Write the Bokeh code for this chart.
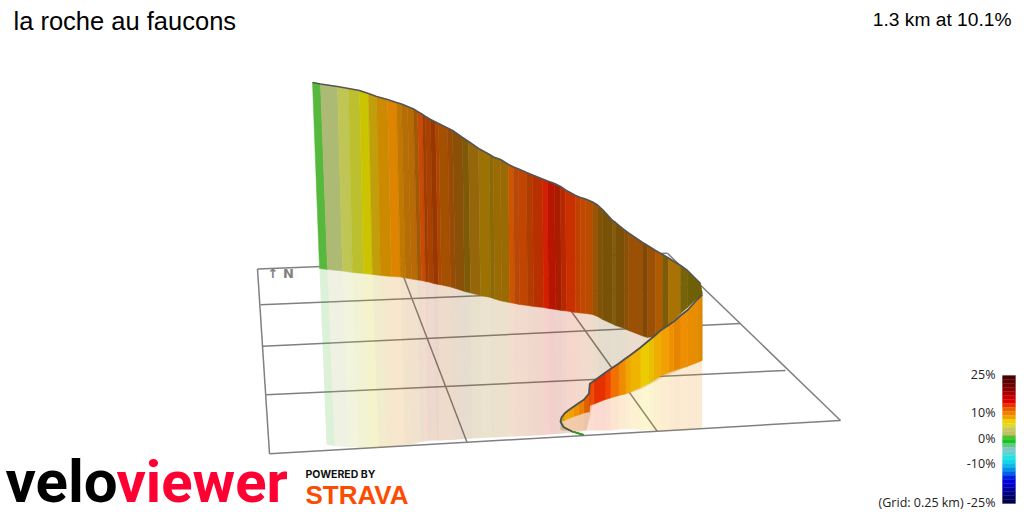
from bokeh.plotting import figure
from bokeh.embed import file_html
from bokeh.resources import INLINE
from bokeh.core.properties import value

title = "la roche au faucons"
summary = "1.3 km at 10.1%"
scale_labels = ["25%", "10%", "0%", "-10%", "(Grid: 0.25 km) -25%"]
scale_label_y = [374, 412, 438, 463, 502]

# back wall: projected positions of the ribbon
back_x_top = [312,320,337,348,359,368,376,387,396,401,407,413,417,422,425,430,435,438,447,452,462,468,478,489,493,500,508,513,518,526,532,542,547,554,560,565,575,580,585,592,597,602,612,615,624,628,642,647,655,662,668,680,687,700]
back_y_top = [82,83.5,86,88,90,93,96,99,102,103.5,106,108.5,111,114,116,119,121.5,123,127.5,130,137,141,148,154,156.5,159,164,166.5,168.5,172,174.5,178.5,180.5,183,186,189.5,195,197,198.5,201.5,204.5,209,220,222,229.5,232.5,242,245,250,254,257.5,265,270,283]
back_x_base = [319,327,342,352,363,372,380,391,400,405,411,417,421,425,428,433,438,441,450,455,464,470,480,490,494,501,509,514,519,527,533,543,548,555,561,566,575,580,585,592,597,602,612,615,624,628,642,647,655,662,668,680,687,702]
back_y_base = [268,269,270.5,272,273,274,275,276,276.5,277.5,278.5,279.5,280,281,281.5,283,284,284.5,286.5,288,291,292.5,295,297,298.5,300.5,302,303,304,305,306,307,308,309,310,310.5,312,312.5,313,314,316,319,323.5,325,328,330,335.5,337,336,330,325,313,307,293]
back_x_refl = [326,334,348,358,369,378,386,395,404,410,415,420,424,427,431,436,439,448,452,457,466,472,481,491,495,502,510,515,520,528,534,544,549,556,562,567,576,581,586,592,597,602,612,615,624,628,642,647,655,662,668,680,687,702]
back_y_refl = [444,445.5,446.5,447,447,447,446.5,445.5,444.5,444,443,441.5,441,440.5,440,440,440,439.5,439.5,439,438.5,438,437.5,437,437,436.5,436,436,435.5,435.5,435,434.5,434,433.5,433,432.5,431.5,431,430,405,403,400,397,396,394,393,388,385,381,377,375,369,366,360]
back_colors = ["#56b83c","#adba74","#bfc655","#bcbf2e","#ccc400","#c09f0a","#cc8a00","#dd8500","#c07800","#b46e05","#b86a05","#a05a06","#c84a05","#a03c00","#a84000","#983800","#b04400","#a35000","#9a4a05","#8a5008","#7c5a08","#96660a","#9d7205","#8a6b08","#9a6a05","#9a6a05","#cc5500","#b8480a","#c04500","#b03c00","#b83000","#d42000","#b81400","#a81c00","#b82800","#c83000","#c04000","#c04800","#b84c00","#9c5200","#825206","#785206","#7f5a08","#7a5006","#8a5005","#9a5005","#804a06","#9a5005","#b05a00","#7f5a08","#a87205","#786408","#6f6005"]

# front wall
front_x = [701.7,696.7,686.7,680,673.3,668.3,660,653.3,648.3,640,630,625,618.3,610,605,593.3,589.3,588.5,583.3,578.3,573.3,568.3,564,561,560,563,571.7,583]
front_y_top = [294,299,310,315,321,324.5,330,336,340,347,354.5,358,363,368.5,372,380.5,383.3,393,399.3,402.5,406,409.5,413,417,421,426.5,431,434.3]
front_y_base = [360,362,366,368,370.3,372,375.5,380,383,387,391.5,393.5,395,397.5,399,403.5,405,411.5,412.5,414.5,416,418,420,421,422,427,431,434.3]
front_y_refl = [427,427.5,428.5,429,429.5,430,430,430,430,429.5,428.5,428.5,429,430,430,430,430,430,430,430,430,430,430,429.5,429,430,431,434.3]
front_colors = ["#e08a00","#e88c00","#ee8e00","#e68600","#f09000","#f0a000","#eead00","#e8c000","#eccc00","#f0b400","#f0a600","#f08c00","#f07000","#f04500","#e63000","#f04a00","#d04000","#e06000","#e88000","#f09000","#f0a000","#f0a800","#d0a000","#b0a010","#506010","#406010","#30a020"]

# ground grid
grid_x0 = [257,260,262.3,265.7,269,257,398,533]
grid_y0 = [268.5,304.3,345.7,394.3,453.3,268.5,263,258]
grid_x1 = [667,701,740,785,840,269,466.7,656.7]
grid_y1 = [252.8,286,323,370,420,453.3,442.3,430.7]
grid_right_x = [667,840]
grid_right_y = [252.8,420]

# colour scale
scale_y = [375,379,383,387,391,395,399,403,407,411,415,419,423,427,431,435,439,443,447,451,455,459,463,467,471,475,479,483,487,491,495,499]
scale_colors = ["#4a0000","#5a0000","#700000","#880000","#a80000","#c80000","#e00000","#e83000","#e86000","#f08000","#f0a000","#f0d000","#e0d830","#c8c860","#c0c060","#50c030","#10c820","#60c880","#80c8c8","#60d0d0","#20e4e4","#10d8e8","#10b8e8","#0090e8","#0060e8","#0020e0","#0000e0","#0000c0","#0000a0","#000080","#000060","#000048"]

GRID = "#808080"
p = figure(width=1024, height=512, x_range=(0, 1024), y_range=(512, 0),
           x_axis_type=None, y_axis_type=None, toolbar_location=None,
           output_backend="svg", min_border=0, outline_line_color=None)
p.grid.visible = False

p.segment(grid_x0, grid_y0, grid_x1, grid_y1, line_color=GRID, line_width=1.5)
p.line(grid_right_x, grid_right_y, line_color=GRID, line_width=1.5)
p.text([272.5], [273], text=["↑"], text_color=GRID, text_font_size="13px",
       text_font_style="bold", text_align="center", text_baseline="middle", text_font=value("DejaVu Sans"))
p.text([288], [273], text=["N"], text_color=GRID, text_font_size="13px",
       text_font_style="bold", text_align="center", text_baseline="middle", text_font=value("DejaVu Sans"))


def strips(x0, y0, x1, y1):
    xs, ys = [], []
    for i in range(len(x0) - 1):
        xs.append([x0[i], x0[i + 1], x1[i + 1], x1[i]])
        ys.append([y0[i], y0[i + 1], y1[i + 1], y1[i]])
    return xs, ys


xs, ys = strips(back_x_base, back_y_base, back_x_refl, back_y_refl)
p.patches(xs, ys, fill_color=back_colors, fill_alpha=0.2, line_color=None)
xs, ys = strips(back_x_top, back_y_top, back_x_base, back_y_base)
p.patches(xs, ys, fill_color=back_colors, line_color=back_colors, line_width=0.5)
p.line(back_x_top, back_y_top, line_color="#555555", line_width=1.6)

xs, ys = strips(front_x, front_y_base, front_x, front_y_refl)
p.patches(xs, ys, fill_color=front_colors, fill_alpha=0.18, line_color=None)
xs, ys = strips(front_x, front_y_top, front_x, front_y_base)
p.patches(xs, ys, fill_color=front_colors, line_color=front_colors, line_width=0.5)
p.line(front_x, front_y_top, line_color="#505050", line_width=1.8)
p.line(front_x[-2:], front_y_top[-2:], line_color="#30a020", line_width=1.8)

p.text([13], [20], text=[title], text_font=value("Liberation Sans"), text_font_size="25.5px",
       text_color="#000000", text_baseline="middle")
p.text([1011], [19], text=[summary], text_font=value("Liberation Sans"), text_font_size="19.2px",
       text_color="#000000", text_align="right", text_baseline="middle")

p.quad(left=1002, right=1015, top=scale_y, bottom=[y + 4 for y in scale_y],
       fill_color=scale_colors, line_color=scale_colors, line_width=0.3)
p.text([995] * 5, scale_label_y, text=scale_labels, text_font=value("Open Sans"), text_font_size="12.5px",
       text_color="#222222", text_align="right", text_baseline="middle")

p.text([5], [481], text=["velo"], text_font=value("Roboto"), text_font_style="bold",
       text_font_size="60px", text_color="#000000", text_baseline="middle")
p.text([116], [481], text=["viewer"], text_font=value("Roboto"), text_font_style="bold",
       text_font_size="58px", text_color="#ff0033", text_baseline="middle")
p.text([305], [474], text=["POWERED BY"], text_font=value("Inter"), text_font_style="bold",
       text_font_size="10.5px", text_color="#111111", text_baseline="middle")
p.text([305], [494], text=["STRAVA"], text_font=value("Liberation Sans"), text_font_style="bold",
       text_font_size="26px", text_color="#fc4c02", text_baseline="middle")

open("out.html", "w").write(file_html(p, INLINE))
